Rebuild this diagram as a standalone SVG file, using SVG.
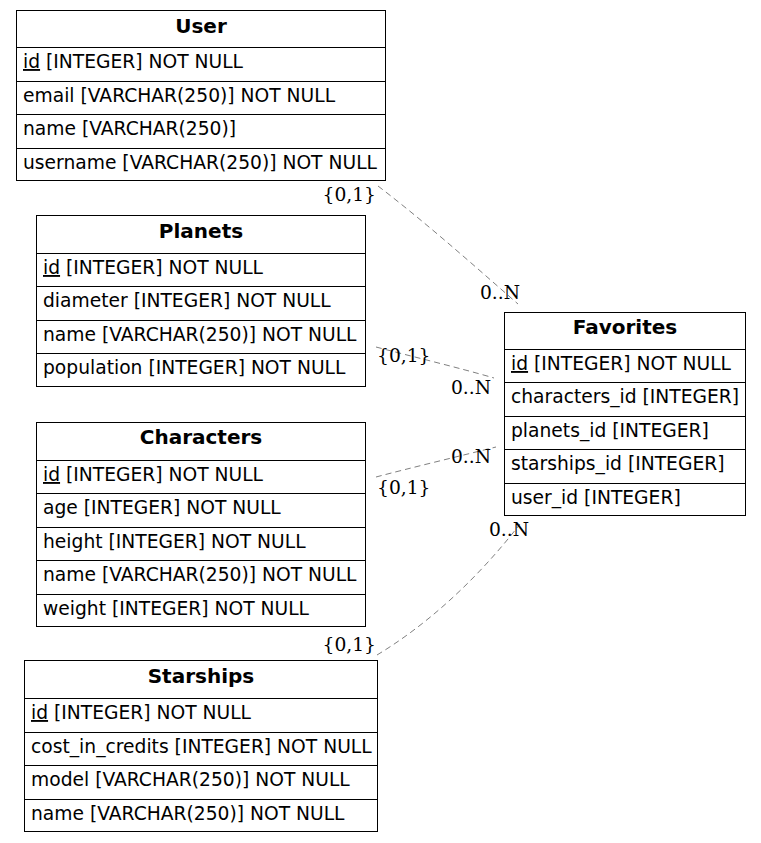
<svg xmlns="http://www.w3.org/2000/svg" width="761" height="843" viewBox="0 0 761 843">
<style>
.box{fill:none;stroke:#000;stroke-width:1}
.sep{stroke:#000;stroke-width:1}
.t{font-family:"DejaVu Sans",sans-serif;font-size:18.7px;fill:#000}
.h{font-family:"DejaVu Sans",sans-serif;font-size:20px;font-weight:bold;fill:#000;text-anchor:middle}
.l{font-family:"DejaVu Serif",serif;font-size:18.7px;fill:#000}
.e{fill:none;stroke:#808080;stroke-width:1;stroke-dasharray:6,4}
.u{text-decoration:underline}
</style>
<rect width="761" height="843" fill="#fff"/>
<g id="connectors">
<path class="e" d="M378,186 C425,222 470,262 518,304"/>
<path class="e" d="M376,347 C410,356 460,368 494,378"/>
<path class="e" d="M376,477 C410,468 460,456 496,447"/>
<path class="e" d="M377,655 C425,626 475,582 520,524"/>
<text class="l" x="376" y="201" text-anchor="end">{0,1}</text>
<text class="l" x="520" y="299" text-anchor="end">0..N</text>
<text class="l" x="377" y="362">{0,1}</text>
<text class="l" x="491" y="394" text-anchor="end">0..N</text>
<text class="l" x="491" y="463" text-anchor="end">0..N</text>
<text class="l" x="377" y="494">{0,1}</text>
<text class="l" x="376" y="651" text-anchor="end">{0,1}</text>
<text class="l" x="529" y="536" text-anchor="end">0..N</text>
</g>
<g id="User">
<rect class="box" x="16.5" y="10.5" width="369" height="170"/>
<line class="sep" x1="16" y1="47.5" x2="386" y2="47.5"/>
<line class="sep" x1="16" y1="81.5" x2="386" y2="81.5"/>
<line class="sep" x1="16" y1="114.5" x2="386" y2="114.5"/>
<line class="sep" x1="16" y1="148.5" x2="386" y2="148.5"/>
<text class="h" x="201" y="33">User</text>
<text class="t" x="23" y="68"><tspan class="u">id</tspan> [INTEGER] NOT NULL</text>
<text class="t" x="23" y="102">email [VARCHAR(250)] NOT NULL</text>
<text class="t" x="23" y="135">name [VARCHAR(250)]</text>
<text class="t" x="23" y="169">username [VARCHAR(250)] NOT NULL</text>
</g>
<g id="Planets">
<rect class="box" x="36.5" y="215.5" width="329" height="171"/>
<line class="sep" x1="36" y1="253.5" x2="366" y2="253.5"/>
<line class="sep" x1="36" y1="286.5" x2="366" y2="286.5"/>
<line class="sep" x1="36" y1="320.5" x2="366" y2="320.5"/>
<line class="sep" x1="36" y1="353.5" x2="366" y2="353.5"/>
<text class="h" x="201" y="238">Planets</text>
<text class="t" x="43" y="274"><tspan class="u">id</tspan> [INTEGER] NOT NULL</text>
<text class="t" x="43" y="307">diameter [INTEGER] NOT NULL</text>
<text class="t" x="43" y="341">name [VARCHAR(250)] NOT NULL</text>
<text class="t" x="43" y="374">population [INTEGER] NOT NULL</text>
</g>
<g id="Characters">
<rect class="box" x="36.5" y="422.5" width="329" height="204"/>
<line class="sep" x1="36" y1="460.5" x2="366" y2="460.5"/>
<line class="sep" x1="36" y1="493.5" x2="366" y2="493.5"/>
<line class="sep" x1="36" y1="527.5" x2="366" y2="527.5"/>
<line class="sep" x1="36" y1="560.5" x2="366" y2="560.5"/>
<line class="sep" x1="36" y1="594.5" x2="366" y2="594.5"/>
<text class="h" x="201" y="444">Characters</text>
<text class="t" x="43" y="481"><tspan class="u">id</tspan> [INTEGER] NOT NULL</text>
<text class="t" x="43" y="514">age [INTEGER] NOT NULL</text>
<text class="t" x="43" y="548">height [INTEGER] NOT NULL</text>
<text class="t" x="43" y="581">name [VARCHAR(250)] NOT NULL</text>
<text class="t" x="43" y="615">weight [INTEGER] NOT NULL</text>
</g>
<g id="Starships">
<rect class="box" x="24.5" y="660.5" width="353" height="171"/>
<line class="sep" x1="24" y1="698.5" x2="378" y2="698.5"/>
<line class="sep" x1="24" y1="732.5" x2="378" y2="732.5"/>
<line class="sep" x1="24" y1="765.5" x2="378" y2="765.5"/>
<line class="sep" x1="24" y1="799.5" x2="378" y2="799.5"/>
<text class="h" x="201" y="683">Starships</text>
<text class="t" x="31" y="719"><tspan class="u">id</tspan> [INTEGER] NOT NULL</text>
<text class="t" x="31" y="753">cost_in_credits [INTEGER] NOT NULL</text>
<text class="t" x="31" y="786">model [VARCHAR(250)] NOT NULL</text>
<text class="t" x="31" y="820">name [VARCHAR(250)] NOT NULL</text>
</g>
<g id="Favorites">
<rect class="box" x="504.5" y="312.5" width="241" height="203"/>
<line class="sep" x1="504" y1="349.5" x2="746" y2="349.5"/>
<line class="sep" x1="504" y1="382.5" x2="746" y2="382.5"/>
<line class="sep" x1="504" y1="416.5" x2="746" y2="416.5"/>
<line class="sep" x1="504" y1="449.5" x2="746" y2="449.5"/>
<line class="sep" x1="504" y1="483.5" x2="746" y2="483.5"/>
<text class="h" x="625" y="334">Favorites</text>
<text class="t" x="511" y="370"><tspan class="u">id</tspan> [INTEGER] NOT NULL</text>
<text class="t" x="511" y="403">characters_id [INTEGER]</text>
<text class="t" x="511" y="437">planets_id [INTEGER]</text>
<text class="t" x="511" y="470">starships_id [INTEGER]</text>
<text class="t" x="511" y="504">user_id [INTEGER]</text>
</g>
</svg>
